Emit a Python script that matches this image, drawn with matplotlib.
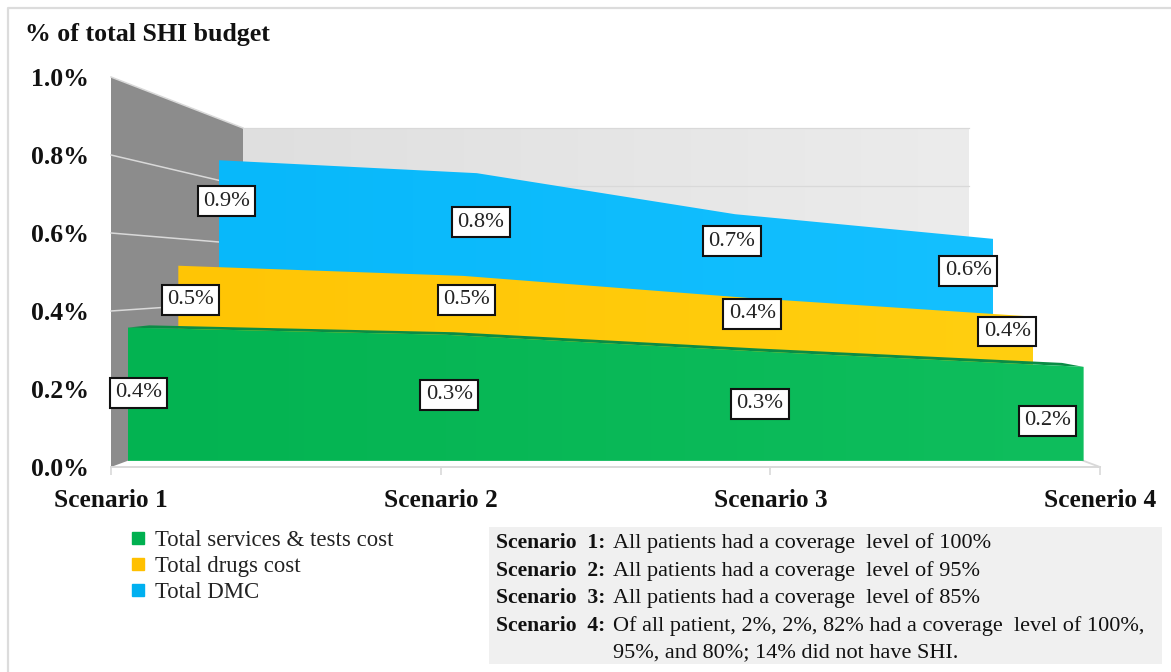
import numpy as np
import matplotlib
matplotlib.use("Agg")
from matplotlib import pyplot as plt
from matplotlib.lines import Line2D
from matplotlib.patches import Polygon, Rectangle

plt.rcParams['font.family'] = ['Liberation Serif', 'DejaVu Serif']

W, H = 1171, 672

# categories and values, % of total SHI budget
scenarios = ["Scenario 1", "Scenario 2", "Scenario 3", "Scenerio 4"]
services_tests = [0.353, 0.334, 0.289, 0.249]
drugs = [0.52, 0.49, 0.425, 0.37]
dmc = [0.865, 0.823, 0.69, 0.61]
y_ticks = [0.0, 0.2, 0.4, 0.6, 0.8, 1.0]

series_names = ["Total services & tests cost", "Total drugs cost", "Total DMC"]
legend_colors = ["#00B050", "#FFC000", "#00B0F0"]

notes = [
    ("Scenario  1:", "All patients had a coverage  level of 100%"),
    ("Scenario  2:", "All patients had a coverage  level of 95%"),
    ("Scenario  3:", "All patients had a coverage  level of 85%"),
    ("Scenario  4:", "Of all patient, 2%, 2%, 82% had a coverage  level of 100%,"),
    ("", "95%, and 80%; 14% did not have SHI."),
]


# the 3d box: depth 0 is the front of the floor, depth 1 the back wall
def plane_box(d):
    left = 111 + 132 * d
    right = 1100 - 131 * d
    base = 467 - 49 * d
    height = 390 - 100 * d
    return left, right, base, height


def project(i, v, d):
    left, right, base, height = plane_box(d)
    return left + (right - left) * i / 3, base - height * v


def plane_axes(d, z):
    left, right, base, height = plane_box(d)
    a = fig.add_axes([left / W, 1 - base / H, (right - left) / W, height / H], zorder=z)
    a.set_xlim(0, 3)
    a.set_ylim(0, 1)
    a.patch.set_alpha(0)
    a.axis("off")
    return a


def gradient_fill(a, x, top, c1, c2):
    # horizontal colour ramp clipped to the area under the series
    c1 = np.array(matplotlib.colors.to_rgb(c1))
    c2 = np.array(matplotlib.colors.to_rgb(c2))
    ramp = np.linspace(0, 1, 256)[None, :, None] * (c2 - c1) + c1
    im = a.imshow(ramp, extent=(0, 3, 0, 1), aspect="auto", zorder=1)
    poly = Polygon(list(zip(x, top)) + [(3, 0), (0, 0)], transform=a.transData, fc="none", ec="none")
    a.add_patch(poly)
    im.set_clip_path(poly)


fig = plt.figure(figsize=(W / 100, H / 100), dpi=100, facecolor="white")

# background layer in pixel units: frame, walls, note box
bg = fig.add_axes([0, 0, 1, 1], zorder=0)
bg.set_xlim(0, W)
bg.set_ylim(H, 0)
bg.axis("off")
bg.plot([7.5, 7.5, W], [H, 7.5, 7.5], color="#DCDCDC", lw=1.6)

# back wall with a slight ramp
bl, br, bb, bh = plane_box(1)
ramp = np.linspace(0, 1, 256)[None, :, None] * (np.array([0.925, 0.925, 0.925]) - 0.875) + 0.875
bg.imshow(ramp, extent=(bl, br, bb, bb - bh), aspect="auto", zorder=1)
bg.set_xlim(0, W)
bg.set_ylim(H, 0)

# left wall
wall = [project(0, 1, 0), project(0, 1, 1), project(0, 0, 1), project(0, 0, 0)]
bg.add_patch(Polygon(wall, fc="#8C8C8C", ec="none", zorder=2))
for v in y_ticks[1:]:
    p0, p1, p2 = project(0, v, 0), project(0, v, 1), project(3, v, 1)
    bg.plot([p0[0], p1[0]], [p0[1], p1[1]], color="#D9D9D9", lw=1.1, zorder=3)
    bg.plot([p1[0], p2[0]], [p1[1], p2[1]], color="#D9D9D9", lw=0.9, zorder=3)
p0, p1 = project(3, 0, 0), project(3, 0, 1)
bg.plot([p0[0], p1[0]], [p0[1], p1[1]], color="#D9D9D9", lw=1.3, zorder=3)

# note box under the chart
bg.add_patch(Rectangle((489, 527), 673, 137, fc="#F0F0F0", ec="none"))
for row, (head, body) in enumerate(notes):
    y = 543.5 + row * 27.4
    if head:
        bg.text(496, y, head, fontsize=15.6, fontweight="bold", va="center", ha="left", color="#111111")
    bg.text(613, y, body, fontsize=16, va="center", ha="left", color="#111111")

bg.text(25, 35, "% of total SHI budget", fontsize=18.6, fontweight="bold", va="center", ha="left", color="#111111")

# front plane carries the real axis ticks
ax = fig.add_axes([111 / W, 1 - 467 / H, 989 / W, 390 / H], zorder=1)
ax.set_xlim(0, 3)
ax.set_ylim(0, 1)
ax.patch.set_alpha(0)
for s in ["top", "left", "right"]:
    ax.spines[s].set_visible(False)
ax.spines["bottom"].set_color("#D9D9D9")
ax.spines["bottom"].set_linewidth(1.4)
ax.set_xticks(range(4), scenarios, fontsize=18.3, fontweight="bold", color="#111111")
ax.set_yticks(y_ticks, [f"{v:.1f}%" for v in y_ticks], fontsize=18.5, fontweight="bold", color="#111111")
ax.tick_params(axis="x", length=6, width=1.2, color="#D9D9D9", pad=10)
ax.tick_params(axis="y", length=0, pad=16)

x = [0, 1, 2, 3]

# series planes, back to front
layers = [
    (dmc, 0.815, "#08B8FA", "#14C0FF", 2),
    (drugs, 0.51, "#FFC505", "#FFCF10", 3),
    (services_tests, 0.125, "#03B351", "#0FBE5D", 5),
]
offsets = [
    [(8, -41), (4, -49), (-3, -27), (-25, -32)],
    [(12, -34), (3, -24), (4, -16), (-26, -15)],
    [(11, -65), (3, -60), (-5, -52), (-36, -54)],
]
for (vals, depth, c1, c2, z), offs in zip(layers, offsets):
    a = plane_axes(depth, z)
    gradient_fill(a, x, vals, c1, c2)
    for i, v in enumerate(vals):
        a.annotate(f"{v:.1f}%", (i, v), xytext=offs[i], textcoords="offset pixels",
                   ha="center", va="center", fontsize=16.2, color="#222222", zorder=10,
                   annotation_clip=False,
                   bbox=dict(boxstyle="square,pad=0.24", fc="white", ec="#111111", lw=1.5))

# dark top surface of the front series
strip = fig.add_axes([0, 0, 1, 1], zorder=4)
strip.set_xlim(0, W)
strip.set_ylim(H, 0)
strip.patch.set_alpha(0)
strip.axis("off")
front = [project(i, services_tests[i], 0.125) for i in x]
rear = [project(i, services_tests[i], 0.29) for i in x]
strip.add_patch(Polygon(front + rear[::-1], fc="#0A8C45", ec="none"))

handles = [Line2D([], [], marker="s", ls="none", color=c, markersize=8) for c in legend_colors]
fig.legend(handles, series_names, loc="upper left", bbox_to_anchor=(104 / W, 1 - 519 / H),
           frameon=False, fontsize=16.4, labelspacing=0.2, handletextpad=-0.28, borderpad=0, labelcolor="#222222")

fig.savefig("out.png", dpi=100)
